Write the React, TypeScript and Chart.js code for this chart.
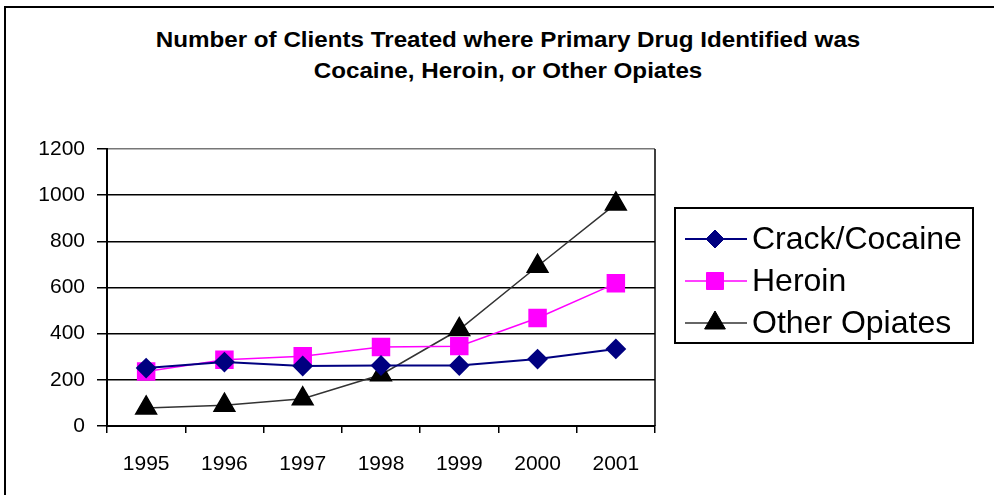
import React, { useEffect, useRef } from "react";
import { Chart, registerables } from "chart.js";

Chart.register(...registerables);

const years = ["1995", "1996", "1997", "1998", "1999", "2000", "2001"];
const crackCocaine = [251, 277, 260, 262, 262, 290, 334];
const heroin = [236, 287, 302, 342, 346, 468, 618];
const otherOpiates = [78, 90, 118, 222, 418, 692, 962];
const seriesNames = ["Crack/Cocaine", "Heroin", "Other Opiates"];
const titleLines = [
  "Number of Clients Treated where Primary Drug Identified was",
  "Cocaine, Heroin, or Other Opiates",
];
const yMin = 0;
const yMax = 1200;
const yStep = 200;

const FONT = "'Liberation Sans', Arial, sans-serif";

function drawMarker(ctx: CanvasRenderingContext2D, style: string, x: number, y: number, r: number, color: string) {
  ctx.save();
  ctx.fillStyle = color;
  ctx.strokeStyle = color;
  ctx.lineWidth = 1;
  ctx.beginPath();
  if (style === "rectRot") {
    ctx.moveTo(x, y - r);
    ctx.lineTo(x + r, y);
    ctx.lineTo(x, y + r);
    ctx.lineTo(x - r, y);
    ctx.closePath();
  } else if (style === "rect") {
    const s = Math.SQRT1_2 * r;
    ctx.rect(x - s, y - s, 2 * s, 2 * s);
  } else if (style === "triangle") {
    const w = r * Math.sin(Math.PI / 3);
    ctx.moveTo(x, y - r);
    ctx.lineTo(x + w, y + r / 2);
    ctx.lineTo(x - w, y + r / 2);
    ctx.closePath();
  }
  ctx.fill();
  ctx.stroke();
  ctx.restore();
}

const extrasPlugin = {
  id: "extras",
  afterDraw(chart: any) {
    const { ctx, chartArea } = chart;
    ctx.save();
    // right border of plot area
    ctx.strokeStyle = "#000";
    ctx.lineWidth = 1.5;
    ctx.beginPath();
    ctx.moveTo(chartArea.right, chartArea.top);
    ctx.lineTo(chartArea.right, chartArea.bottom);
    ctx.stroke();

    // legend
    const lx = chartArea.right + 20;
    const ly = 208;
    const lw = 298;
    const lh = 135;
    ctx.lineWidth = 2;
    ctx.strokeStyle = "#000";
    ctx.strokeRect(lx, ly, lw, lh);
    chart.data.datasets.forEach((ds: any, i: number) => {
      const cy = ly + 31 + i * 42;
      ctx.strokeStyle = ds.borderColor;
      ctx.lineWidth = ds.borderWidth;
      ctx.beginPath();
      ctx.moveTo(lx + 10, cy);
      ctx.lineTo(lx + 72, cy);
      ctx.stroke();
      drawMarker(ctx, ds.pointStyle, lx + 40, cy, ds.pointRadius, ds.pointBackgroundColor);
      ctx.fillStyle = "#000";
      ctx.font = `32px ${FONT}`;
      ctx.textBaseline = "middle";
      ctx.textAlign = "left";
      ctx.fillText(ds.label, lx + 77, cy + 1);
    });
    ctx.restore();
  },
};

export default function App() {
  const canvasRef = useRef<HTMLCanvasElement | null>(null);

  useEffect(() => {
    if (!canvasRef.current) return;
    const chart = new Chart(canvasRef.current, {
      type: "line",
      data: {
        labels: years,
        datasets: [
          {
            label: seriesNames[0],
            data: crackCocaine,
            borderColor: "#000080",
            backgroundColor: "#000080",
            pointBackgroundColor: "#000080",
            pointBorderColor: "#000080",
            borderWidth: 2,
            pointStyle: "rectRot",
            pointRadius: 9,
            tension: 0,
          },
          {
            label: seriesNames[1],
            data: heroin,
            borderColor: "#FF00FF",
            backgroundColor: "#FF00FF",
            pointBackgroundColor: "#FF00FF",
            pointBorderColor: "#FF00FF",
            borderWidth: 1.5,
            pointStyle: "rect",
            pointRadius: 12,
            tension: 0,
          },
          {
            label: seriesNames[2],
            data: otherOpiates,
            borderColor: "#333333",
            backgroundColor: "#000000",
            pointBackgroundColor: "#000000",
            pointBorderColor: "#000000",
            borderWidth: 1.5,
            pointStyle: "triangle",
            pointRadius: 12,
            tension: 0,
          },
        ] as any,
      },
      options: {
        animation: false,
        responsive: false,
        devicePixelRatio: 1,
        layout: { padding: { top: 149, right: 339, left: 0, bottom: 0 } },
        plugins: {
          legend: { display: false },
          title: { display: false },
          tooltip: { enabled: false },
        },
        scales: {
          x: {
            offset: true,
            grid: {
              offset: true,
              drawOnChartArea: false,
              drawTicks: true,
              tickLength: 7,
              color: "#000",
              lineWidth: 1.5,
            },
            border: { display: true, color: "#000", width: 2 },
            ticks: {
              color: "#000",
              font: { family: FONT, size: 21 },
              padding: 19,
              maxRotation: 0,
            },
            afterFit(scale: any) {
              scale.height = 69;
            },
          },
          y: {
            min: yMin,
            max: yMax,
            grid: {
              color: (c: any) => (c.tick && c.tick.value === yMax ? "#777" : "#000"),
              lineWidth: 1.5,
              drawTicks: true,
              tickLength: 10,
              tickColor: "#000",
            } as any,
            border: { display: true, color: "#000", width: 2 },
            ticks: {
              stepSize: yStep,
              color: "#000",
              font: { family: FONT, size: 21 },
              padding: 12,
              callback: (v: any) => String(v),
            },
            afterFit(scale: any) {
              scale.width = 107;
            },
          },
        },
      },
      plugins: [extrasPlugin],
    });
    return () => chart.destroy();
  }, []);

  return (
    <div style={{ position: "absolute", left: 0, top: 0, width: 994, height: 495, background: "#fff", overflow: "hidden" }}>
      <div
        style={{
          position: "absolute",
          left: 4,
          top: 6,
          width: 1100,
          height: 600,
          borderLeft: "2.5px solid #000",
          borderTop: "2.5px solid #000",
        }}
      />
      <div
        style={{
          position: "absolute",
          left: 0,
          top: 24,
          width: 1016,
          textAlign: "center",
          fontFamily: FONT,
          fontWeight: "bold",
          fontSize: 22,
          lineHeight: "31px",
          color: "#000",
          transform: "scaleX(1.1)",
          transformOrigin: "508px 0",
        }}
      >
        {titleLines.map((t, i) => (
          <div key={i}>{t}</div>
        ))}
      </div>
      <canvas ref={canvasRef} width={994} height={495} style={{ position: "absolute", left: 0, top: 0 }} />
    </div>
  );
}
